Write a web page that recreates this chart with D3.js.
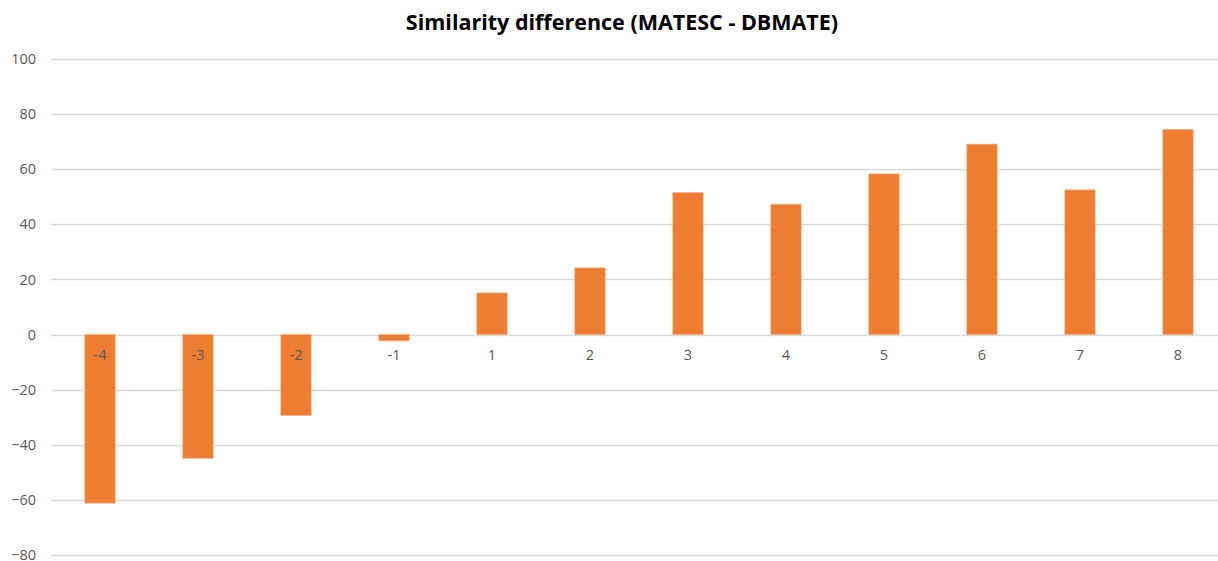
<!DOCTYPE html>
<html>
<head>
<meta charset="utf-8">
<script src="https://cdn.jsdelivr.net/npm/d3@7"></script>
<style>
  html, body { margin: 0; padding: 0; background: #fff; }
  svg { display: block; }
</style>
</head>
<body>
<svg id="chart" width="1218" height="561"></svg>
<script>
// Category labels along the x axis
const categories = ["-4", "-3", "-2", "-1", "1", "2", "3", "4", "5", "6", "7", "8"];
// Similarity difference per category
const differences = [-61.2, -44.9, -29.4, -2.3, 15.1, 24.2, 51.5, 47.3, 58.3, 69.1, 52.5, 74.4];
// Y axis tick values
const yTicks = [-80, -60, -40, -20, 0, 20, 40, 60, 80, 100];

const title = "Similarity difference (MATESC - DBMATE)";

const svg = d3.select("#chart");
const W = 1218, H = 561;
const plotLeft = 51, plotRight = 1227;

const x = d3.scaleBand()
  .domain(categories)
  .range([plotLeft, plotRight])
  .paddingInner(0.69)
  .paddingOuter(0.345);

const y = d3.scaleLinear()
  .domain([-80, 100])
  .range([555, 59]);

const labelFont = "'Open Sans', 'Liberation Sans', sans-serif";
const titleFont = "'Liberation Sans Narrow', 'Open Sans', sans-serif";

// Title
svg.append("text")
  .attr("x", 622)
  .attr("y", 30)
  .attr("text-anchor", "middle")
  .attr("font-family", titleFont)
  .attr("font-weight", "bold")
  .attr("font-size", 21.5)
  .attr("fill", "#000")
  .text(title);

// Horizontal gridlines
svg.append("g")
  .selectAll("line")
  .data(yTicks)
  .join("line")
  .attr("x1", plotLeft)
  .attr("x2", W)
  .attr("y1", d => Math.round(y(d)) + 0.5)
  .attr("y2", d => Math.round(y(d)) + 0.5)
  .attr("stroke", "#d9d9d9")
  .attr("stroke-width", 1.3);

// Y axis labels
const yAxis = d3.axisLeft(y).tickValues(yTicks).tickSize(0).tickPadding(0);
const yg = svg.append("g")
  .attr("transform", `translate(${plotLeft - 15},0)`)
  .call(yAxis);
yg.select(".domain").remove();
yg.selectAll("text")
  .attr("font-family", labelFont)
  .attr("font-size", 14.5)
  .attr("fill", "#595959");

// Bars
svg.append("g")
  .selectAll("rect")
  .data(differences)
  .join("rect")
  .attr("x", (d, i) => x(categories[i]))
  .attr("width", x.bandwidth())
  .attr("y", d => y(Math.max(0, d)))
  .attr("height", d => Math.abs(y(d) - y(0)))
  .attr("fill", "#ed7d31")
  .attr("stroke", "#f4b183")
  .attr("stroke-width", 0.8);

// Category labels next to the zero line
const xAxis = d3.axisBottom(x).tickSize(0).tickPadding(0);
const xg = svg.append("g")
  .attr("transform", `translate(0,${y(0) + 15})`)
  .call(xAxis);
xg.select(".domain").remove();
xg.selectAll("text")
  .attr("font-family", labelFont)
  .attr("font-size", 14.5)
  .attr("fill", "#595959");
</script>
</body>
</html>
